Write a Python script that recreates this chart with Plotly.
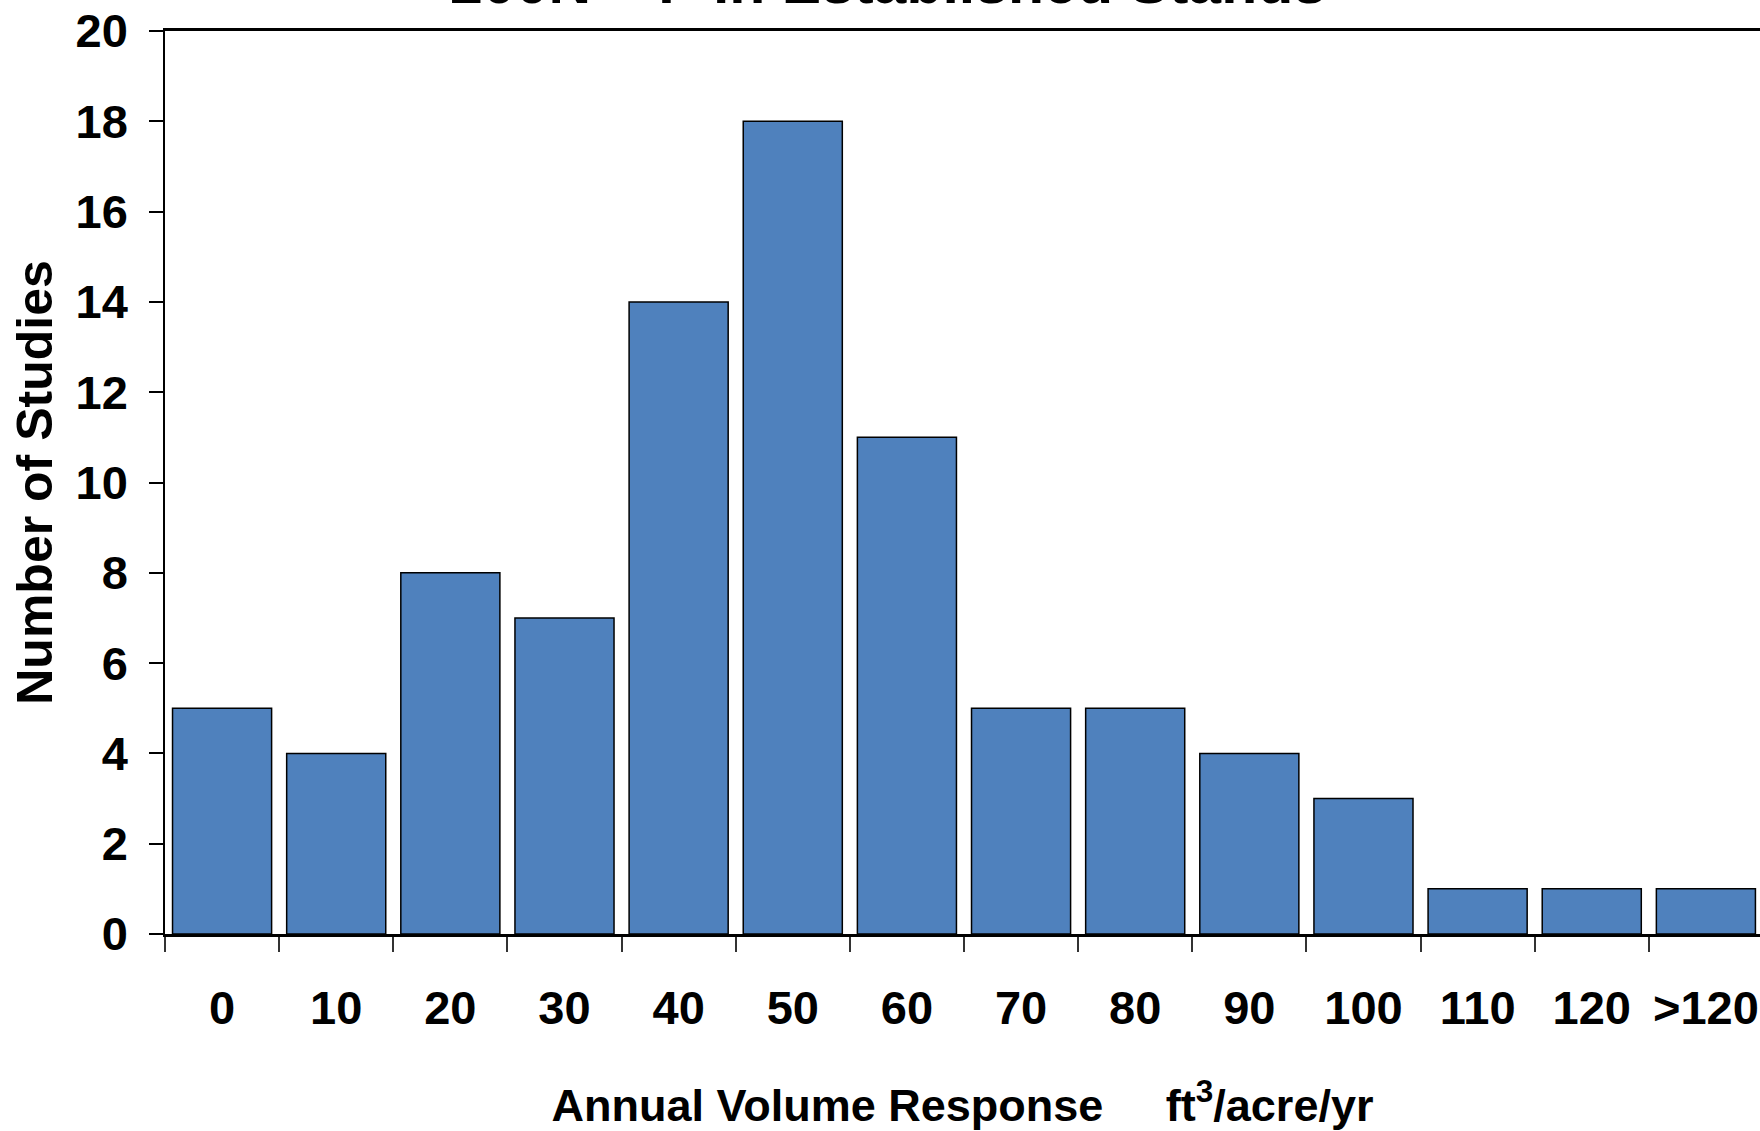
import plotly.graph_objects as go

categories = ["0", "10", "20", "30", "40", "50", "60", "70", "80", "90", "100", "110", "120", ">120"]
studies = [5, 4, 8, 7, 14, 18, 11, 5, 5, 4, 3, 1, 1, 1]

title_text = "200N + P in Established Stands"
x_title = "Annual Volume Response&nbsp;&nbsp;&nbsp;&nbsp; ft<sup>3</sup>/acre/yr"
y_title = "Number of Studies"

FONT = "Liberation Sans, Arial, sans-serif"

fig = go.Figure(
    go.Bar(
        x=categories,
        y=studies,
        marker=dict(color="#4F81BD", line=dict(color="black", width=1.5)),
    )
)

fig.update_layout(
    width=1760,
    height=1131,
    margin=dict(l=165, r=0, t=31, b=197),
    plot_bgcolor="white",
    paper_bgcolor="white",
    bargap=0.132,
    showlegend=False,
    font=dict(family=FONT, color="black"),
    annotations=[
        dict(
            text="<b>" + title_text + "</b>",
            xref="paper", yref="paper",
            x=0.4533, y=1.0 + 13 / 903,
            xanchor="center", yanchor="bottom",
            showarrow=False,
            font=dict(family=FONT, size=59, color="black"),
        )
    ],
)

fig.update_xaxes(
    type="category",
    range=[-0.5, 13.474],
    tickson="boundaries",
    ticks="outside",
    ticklen=15,
    tickwidth=1.5,
    tickcolor="#333333",
    tickangle=0,
    showline=True,
    linecolor="black",
    linewidth=2.5,
    mirror=True,
    showgrid=False,
    tickfont=dict(family=FONT, size=47, color="black", weight="bold"),
    ticklabelstandoff=31,
    title=dict(text=x_title, font=dict(family=FONT, size=45, color="black", weight="bold"), standoff=58),
    automargin=False,
)

fig.update_yaxes(
    range=[0, 20],
    dtick=2,
    ticks="outside",
    ticklen=14,
    tickwidth=1.5,
    tickcolor="black",
    showline=True,
    linecolor="black",
    linewidth=1.5,
    showgrid=False,
    zeroline=False,
    tickfont=dict(family=FONT, size=47, color="black", weight="bold"),
    ticklabelstandoff=12,
    title=dict(text=y_title, font=dict(family=FONT, size=50, color="black", weight="bold"), standoff=7),
    automargin=False,
)

fig.write_html("out.html")
